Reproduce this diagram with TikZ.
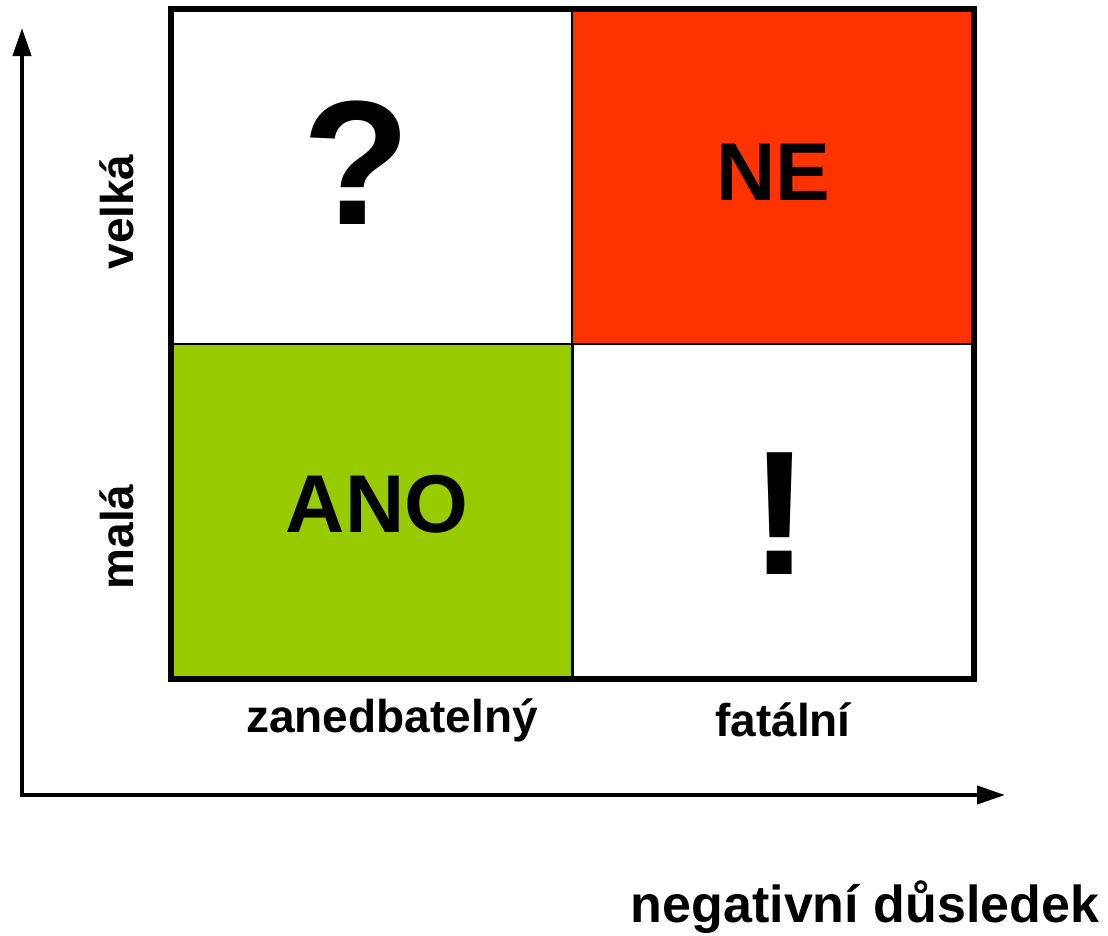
\documentclass[tikz,border=0pt]{standalone}
\usepackage{fontspec}
\setmainfont{Liberation Sans}
\usetikzlibrary{arrows.meta}
\definecolor{nered}{HTML}{FF3300}
\definecolor{anogreen}{HTML}{99CC00}
\begin{document}
\begin{tikzpicture}[x=1pt,y=-1pt,
  cell/.style={draw=black, line width=2pt, minimum width=401pt, minimum height=334pt, inner sep=0pt, anchor=center},
  big/.style={font=\bfseries\fontsize{177}{177}\selectfont},
  mid/.style={font=\bfseries\fontsize{82}{82}\selectfont},
  lab/.style={font=\bfseries\fontsize{46}{46}\selectfont, inner sep=0pt},
  axis/.style={line width=4pt, {Triangle[length=28pt,width=18pt]}-{Triangle[length=28pt,width=18pt]}, line join=miter}]
\useasboundingbox (0,0) rectangle (1108,935);
% cells
\node[cell] (q) at (372.5,177) {};
\node[cell, fill=nered] (ne) at (772.5,177) {};
\node[cell, fill=anogreen] (ano) at (372.5,511) {};
\node[cell] (ex) at (772.5,511) {};
\draw[line width=6.5pt] (q.north west) rectangle (ex.south east);
% cell texts
\node[big, inner sep=0pt] (tq) at (357,163) {?};
\node[mid, inner sep=0pt] (tne) at (773,172) {NE};
\node[mid, inner sep=0pt] (tano) at (377,504) {ANO};
\node[big, inner sep=0pt] (tex) at (780,514) {!};
% axes
\coordinate (o) at (22,795);
\coordinate (ytip) at (22,28);
\coordinate (xtip) at (1005,795);
\draw[axis] (ytip) -- (o) -- (xtip);
% labels
\node[lab, rotate=90] (velka) at (117,212) {velká};
\node[lab, rotate=90] (mala) at (117,537) {malá};
\node[lab] (zan) at (392,720) {zanedbatelný};
\node[lab] (fat) at (783,720) {fatální};
\node[font=\bfseries\fontsize{52}{52}\selectfont, inner sep=0pt] (neg) at (865,907) {negativní důsledek};
\end{tikzpicture}
\end{document}
